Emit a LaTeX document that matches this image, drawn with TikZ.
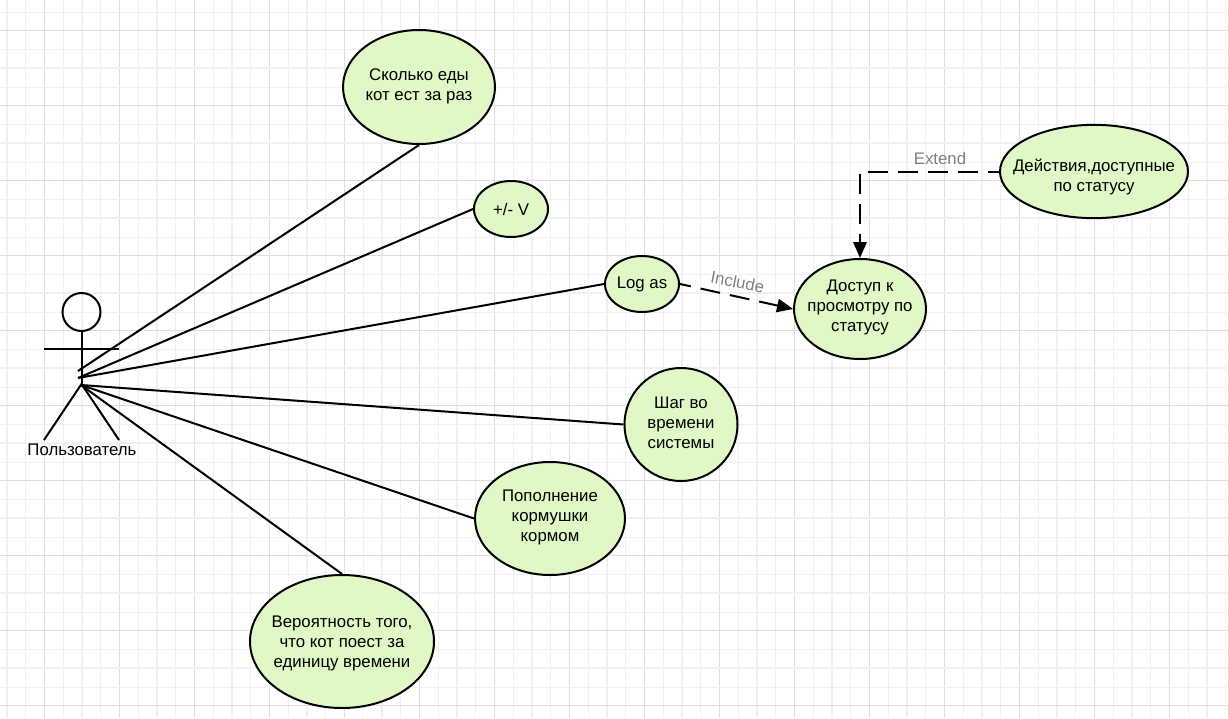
\documentclass[tikz,border=0pt]{standalone}
\usepackage{fontspec}
\setmainfont{Liberation Sans}
\usetikzlibrary{arrows.meta,shapes.geometric}
\definecolor{usefill}{HTML}{DFF8C6}
\tikzset{
  grid0/.style={draw=black!6,line width=1.5pt},
  grid1/.style={draw=black!6,line width=0.75pt},
  grid2/.style={draw=black!13,line width=0.75pt},
  grid3/.style={draw=black!6,line width=0.75pt},
  usecase/.style={draw=black,line width=1.5pt,fill=usefill,shape=ellipse,inner sep=0pt},
  usetext/.style={align=center,inner sep=0pt,font=\fontsize{12.6}{15}\selectfont},
  assoc/.style={line width=1.5pt,black},
  depend/.style={line width=1.5pt,black,dash pattern=on 15pt off 7.5pt,dash phase=6.75pt,-{Triangle[length=12pt,width=10pt]}},
  deplabel/.style={text=black!50,font=\fontsize{12.6}{15}\selectfont,inner sep=0pt}
}
\begin{document}
\begin{tikzpicture}[x=0.75pt,y=-0.75pt]
  \useasboundingbox (0,0) rectangle (1228,718);
  % grid
  \foreach \i in {0,...,65}{
    \pgfmathsetmacro{\gx}{7+18.75*\i}
    \pgfmathtruncatemacro{\m}{mod(\i,4)}
    \draw[grid\m] (\gx,0) -- (\gx,718);
  }
  \foreach \i in {0,...,37}{
    \pgfmathsetmacro{\gy}{12+18.75*\i}
    \pgfmathtruncatemacro{\m}{mod(\i+1,4)}
    \draw[grid\m] (0,\gy) -- (1228,\gy);
  }
  % use cases
  \node[usecase,minimum width=114pt,minimum height=85.5pt,label={[usetext,yshift=0.5pt]center:Сколько еды\\кот ест за раз}] (eat) at (419,87) {};
  \node[usecase,minimum width=55.5pt,minimum height=42pt,label={[usetext]center:+/- V}] (volume) at (511,209) {};
  \node[usecase,minimum width=55.5pt,minimum height=42pt,label={[usetext]center:Log as}] (logas) at (642,284) {};
  \node[usecase,minimum width=99pt,minimum height=75pt,label={[usetext,yshift=1pt]center:Доступ к\\просмотру по\\статусу}] (access) at (860,309) {};
  \node[usecase,minimum width=141pt,minimum height=70pt,label={[usetext,yshift=-4pt]center:Действия,доступные\\по статусу}] (actions) at (1094,171.5) {};
  \node[usecase,minimum width=84.75pt,minimum height=84.75pt,label={[usetext,yshift=1.5pt]center:Шаг во\\времени\\системы}] (timestep) at (681,424.5) {};
  \node[usecase,minimum width=112.5pt,minimum height=84.75pt,label={[usetext,yshift=1pt]center:Пополнение\\кормушки\\кормом}] (refill) at (550,518.5) {};
  \node[usecase,minimum width=138pt,minimum height=99.75pt,label={[usetext,yshift=-1.5pt]center:Вероятность того,\\что кот поест за\\единицу времени}] (chance) at (342,641.5) {};
  % actor
  \node[draw,line width=1.5pt,circle,minimum size=28.5pt,inner sep=0pt] (head) at (81.5,312) {};
  \coordinate (hip) at (81.5,384);
  \coordinate (handl) at (44,349);
  \coordinate (handr) at (119,349);
  \coordinate (footl) at (44,440);
  \coordinate (footr) at (119,440);
  \draw[assoc] (head.south) -- (hip);
  \draw[assoc] (handl) -- (handr);
  \draw[assoc] (footl) -- (hip) -- (footr);
  \node[usetext] (actor) at (82,450) {Пользователь};
  % associations
  \coordinate (from1) at (78,371);
  \coordinate (from2) at (78,378);
  \coordinate (from3) at (81,385);
  \draw[assoc] (from1) -- (eat.south);
  \draw[assoc] (from2) -- (volume.west);
  \draw[assoc] (from2) -- (logas.west);
  \draw[assoc] (from3) -- (timestep.west);
  \draw[assoc] (from3) -- (refill.west);
  \draw[assoc] (from3) -- (chance.north);
  % dependencies
  \draw[depend] (logas.east) -- (access.west);
  \coordinate (bend) at (access.north |- actions.west);
  \draw[depend] (actions.west) -- (bend) -- (access.north);
  \node[deplabel,rotate=-11] (include) at (737.5,282) {Include};
  \node[deplabel] (extend) at (940,158.5) {Extend};
\end{tikzpicture}
\end{document}
